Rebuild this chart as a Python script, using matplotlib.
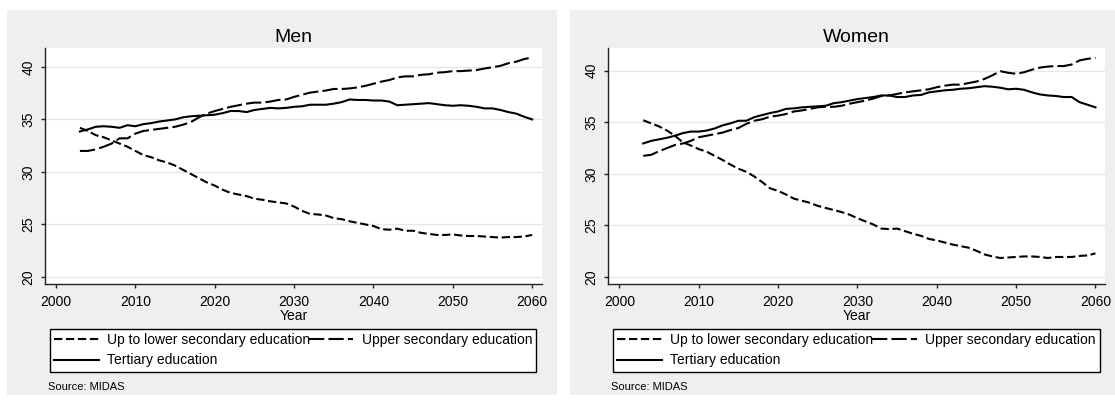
import matplotlib.pyplot as plt
from matplotlib.patches import Rectangle

plt.rcParams['font.family'] = ['Liberation Sans', 'DejaVu Sans']
plt.rcParams['lines.scale_dashes'] = False

years = list(range(2003, 2061))

labels = ["Up to lower secondary education", "Upper secondary education", "Tertiary education"]

men_lower = [34.2, 33.9, 33.5, 33.3, 33.0, 32.7, 32.4, 32.0, 31.6, 31.4,
             31.1, 30.9, 30.6, 30.2, 29.8, 29.4, 29.0, 28.7, 28.3, 28.0,
             27.85, 27.7, 27.45, 27.35, 27.2, 27.1, 27.0, 26.7, 26.3, 26.0,
             25.95, 25.85, 25.6, 25.5, 25.3, 25.15, 25.0, 24.85, 24.55, 24.5,
             24.6, 24.4, 24.4, 24.2, 24.1, 24.0, 24.0, 24.05, 23.95, 23.9,
             23.9, 23.85, 23.8, 23.75, 23.8, 23.8, 23.85, 24.0]
men_upper = [32.0, 32.0, 32.15, 32.4, 32.7, 33.2, 33.2, 33.65, 33.9, 34.0,
             34.1, 34.2, 34.3, 34.5, 34.75, 35.2, 35.55, 35.8, 36.0, 36.2,
             36.35, 36.5, 36.6, 36.6, 36.7, 36.85, 36.9, 37.15, 37.35, 37.55,
             37.65, 37.75, 37.9, 37.9, 37.95, 38.05, 38.2, 38.4, 38.6, 38.75,
             39.0, 39.1, 39.1, 39.25, 39.3, 39.45, 39.5, 39.6, 39.6, 39.65,
             39.7, 39.85, 39.97, 40.1, 40.35, 40.5, 40.75, 40.9]
men_tertiary = [33.85, 34.05, 34.3, 34.35, 34.3, 34.2, 34.45, 34.35, 34.55, 34.65,
                34.8, 34.9, 35.0, 35.2, 35.3, 35.35, 35.4, 35.45, 35.6, 35.8,
                35.8, 35.7, 35.9, 36.0, 36.1, 36.05, 36.1, 36.2, 36.25, 36.4,
                36.4, 36.4, 36.5, 36.65, 36.9, 36.85, 36.85, 36.8, 36.8, 36.7,
                36.35, 36.4, 36.45, 36.5, 36.55, 36.45, 36.35, 36.3, 36.35, 36.3,
                36.2, 36.05, 36.05, 35.9, 35.7, 35.55, 35.25, 35.0]

women_lower = [35.2, 34.9, 34.6, 34.2, 33.7, 33.05, 32.75, 32.4, 32.15, 31.75,
               31.35, 30.9, 30.5, 30.2, 29.75, 29.2, 28.6, 28.35, 28.0, 27.6,
               27.4, 27.2, 26.9, 26.7, 26.5, 26.3, 26.05, 25.7, 25.4, 25.1,
               24.7, 24.65, 24.7, 24.45, 24.2, 24.0, 23.7, 23.55, 23.35, 23.15,
               23.0, 22.85, 22.55, 22.2, 22.0, 21.85, 21.9, 21.95, 22.0, 22.0,
               21.95, 21.85, 21.95, 21.95, 21.95, 22.05, 22.1, 22.3]
women_upper = [31.75, 31.85, 32.2, 32.5, 32.8, 32.95, 33.2, 33.55, 33.7, 33.85,
               34.0, 34.25, 34.45, 34.85, 35.15, 35.3, 35.55, 35.65, 35.8, 36.05,
               36.15, 36.3, 36.45, 36.5, 36.5, 36.6, 36.8, 36.95, 37.1, 37.3,
               37.55, 37.6, 37.75, 37.9, 38.0, 38.1, 38.2, 38.4, 38.55, 38.65,
               38.65, 38.8, 38.95, 39.2, 39.55, 39.95, 39.8, 39.7, 39.85, 40.1,
               40.3, 40.4, 40.45, 40.45, 40.6, 41.0, 41.15, 41.25]
women_tertiary = [32.95, 33.2, 33.35, 33.5, 33.7, 33.95, 34.1, 34.1, 34.2, 34.4,
                  34.7, 34.9, 35.15, 35.15, 35.5, 35.7, 35.9, 36.05, 36.3, 36.35,
                  36.45, 36.5, 36.55, 36.6, 36.85, 36.95, 37.1, 37.25, 37.35, 37.45,
                  37.6, 37.6, 37.45, 37.45, 37.6, 37.65, 37.9, 38.0, 38.1, 38.15,
                  38.25, 38.3, 38.4, 38.5, 38.45, 38.35, 38.2, 38.25, 38.15, 37.9,
                  37.7, 37.6, 37.55, 37.45, 37.45, 36.95, 36.7, 36.45]

xticks = [2000, 2010, 2020, 2030, 2040, 2050, 2060]
yticks = [20, 25, 30, 35, 40]

W, H = 1115, 405
fig = plt.figure(figsize=(W / 100, H / 100), dpi=100)
fig.patch.set_facecolor('white')

# gray panels like stata graph combine
for x0, x1 in [(7, 557), (570, 1115)]:
    fig.patches.append(Rectangle((x0 / W, 1 - 395 / H), (x1 - x0) / W, 385 / H,
                                 transform=fig.transFigure, facecolor='#efefef',
                                 edgecolor='none', zorder=-10))

panels = [
    ("Men", men_lower, men_upper, men_tertiary, 45, 541.7, (19.33, 41.8)),
    ("Women", women_lower, women_upper, women_tertiary, 608.3, 1105, (19.33, 42.2)),
]

for title, low, up, ter, ax0, ax1, ylim in panels:
    ax = fig.add_axes([ax0 / W, 1 - 284 / H, (ax1 - ax0) / W, 236 / H])
    ax.set_facecolor('white')
    l1, = ax.plot(years, low, color='black', lw=1.5, dashes=(6, 2.6))
    l2, = ax.plot(years, up, color='black', lw=1.5, dashes=(11, 3))
    l3, = ax.plot(years, ter, color='black', lw=1.5)
    ax.set_xlim(1998.6, 2061.2)
    ax.set_ylim(*ylim)
    ax.set_xticks(xticks)
    ax.set_yticks(yticks)
    ax.set_yticklabels([str(v) for v in yticks], rotation=90, va='center')
    ax.grid(axis='y', color='#e6e6e6', lw=1)
    ax.set_axisbelow(True)
    ax.spines['top'].set_visible(False)
    ax.spines['right'].set_visible(False)
    for s in ['left', 'bottom']:
        ax.spines[s].set_color('#222222')
        ax.spines[s].set_linewidth(1)
    ax.tick_params(direction='out', length=3, width=1, colors='#222222',
                   labelcolor='black', labelsize=10, pad=4)
    ax.tick_params(axis='x', pad=5)
    ax.set_title(title, fontsize=14, pad=4)
    ax.set_xlabel("Year", fontsize=10, labelpad=0)

    lx0 = ax0 + 5
    lx1 = ax1 - 5.5
    # column-first fill: col 1 = lower + tertiary, col 2 = upper
    leg = ax.legend([l1, l3, l2], [labels[0], labels[2], labels[1]], ncol=2,
                    mode='expand', loc='upper left',
                    bbox_to_anchor=(lx0 / W, 1 - 374 / H, (lx1 - lx0) / W, 45 / H),
                    bbox_transform=fig.transFigure, fontsize=10,
                    fancybox=False, framealpha=1, edgecolor='black',
                    borderpad=0.3, labelspacing=0.45, handlelength=3.2,
                    handletextpad=0.6, borderaxespad=0, columnspacing=0.6)
    leg.get_frame().set_linewidth(1)
    fig.text((ax0 + 3) / W, 1 - 386.7 / H, "Source: MIDAS", fontsize=8,
             va='center', ha='left')

fig.savefig("out.png", dpi=100)
